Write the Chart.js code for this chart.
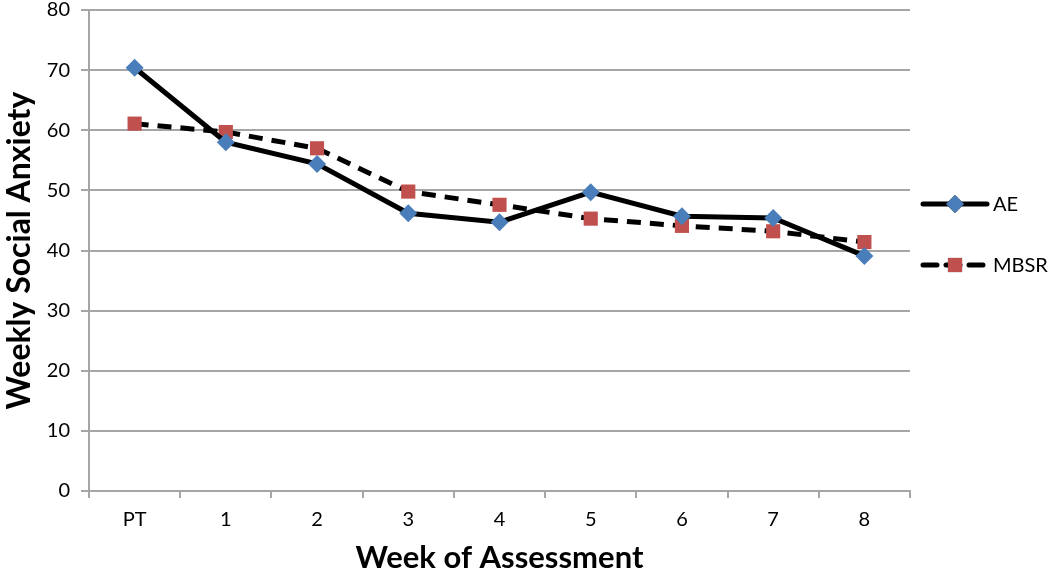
<!DOCTYPE html>
<html>
<head>
<meta charset="utf-8">
<script src="https://cdn.jsdelivr.net/npm/chart.js@4/dist/chart.umd.min.js"></script>
<style>
  html, body { margin: 0; padding: 0; background: #fff; }
  #wrap { width: 1050px; height: 577px; position: relative; }
</style>
</head>
<body>
<div id="wrap"><canvas id="c"></canvas></div>
<script>
const categories = ['PT', '1', '2', '3', '4', '5', '6', '7', '8'];
const aeValues   = [70.4, 58.0, 54.4, 46.2, 44.7, 49.7, 45.7, 45.4, 39.1];
const mbsrValues = [61.1, 59.7, 57.0, 49.8, 47.6, 45.3, 44.1, 43.2, 41.4];
const seriesNames = ['AE', 'MBSR'];
const yTicks = [0, 10, 20, 30, 40, 50, 60, 70, 80];

const FONT = 'Lato, "Open Sans", sans-serif';
const GRID = '#a6a6a6';

const legendPlugin = {
  id: 'sideLegend',
  afterDraw(chart) {
    const ctx = chart.ctx;
    const x0 = chart.chartArea.right + 11;
    const ys = [204, 265];
    chart.data.datasets.forEach((ds, i) => {
      const y = ys[i];
      ctx.save();
      ctx.strokeStyle = ds.borderColor;
      ctx.lineWidth = ds.borderWidth;
      ctx.setLineDash(ds.borderDash || []);
      ctx.lineCap = 'round';
      ctx.beginPath();
      ctx.moveTo(x0 + 2, y);
      ctx.lineTo(x0 + 66, y);
      ctx.stroke();
      ctx.setLineDash([]);
      Chart.helpers.drawPoint(ctx, {
        pointStyle: ds.pointStyle,
        radius: ds.pointRadius,
        rotation: 0,
        borderWidth: 0
      }, x0 + 34, y);
      ctx.fillStyle = ds.pointBackgroundColor;
      ctx.fill();
      ctx.fillStyle = '#000';
      ctx.font = '20px ' + FONT;
      ctx.textBaseline = 'middle';
      ctx.textAlign = 'left';
      ctx.fillText(ds.label, x0 + 72, y + 1);
      ctx.restore();
    });
  }
};

new Chart(document.getElementById('c'), {
  type: 'line',
  data: {
    labels: categories,
    datasets: [
      {
        label: seriesNames[0],
        data: aeValues,
        borderColor: '#000',
        borderWidth: 5,
        pointStyle: 'rectRot',
        pointRadius: 9,
        pointHoverRadius: 9,
        pointBackgroundColor: '#4a7ebb',
        pointBorderColor: '#4a7ebb',
        pointBorderWidth: 0,
        tension: 0
      },
      {
        label: seriesNames[1],
        data: mbsrValues,
        borderColor: '#000',
        borderWidth: 5,
        borderDash: [14, 9],
        pointStyle: 'rect',
        pointRadius: 10,
        pointHoverRadius: 10,
        pointBackgroundColor: '#c0504d',
        pointBorderColor: '#c0504d',
        pointBorderWidth: 0,
        tension: 0
      }
    ]
  },
  options: {
    responsive: true,
    maintainAspectRatio: false,
    animation: false,
    events: [],
    layout: { padding: { left: 0, right: 140, top: 9, bottom: 0 } },
    plugins: {
      legend: { display: false },
      tooltip: { enabled: false }
    },
    scales: {
      x: {
        type: 'category',
        offset: true,
        grid: {
          offset: true,
          drawOnChartArea: false,
          drawTicks: true,
          tickLength: 7,
          color: GRID,
          lineWidth: 2
        },
        border: { display: true, color: GRID, width: 2 },
        ticks: {
          color: '#000',
          font: { family: FONT, size: 20 },
          padding: 10,
          maxRotation: 0
        },
        title: {
          display: true,
          text: 'Week of Assessment',
          color: '#000',
          font: { family: FONT, size: 31, weight: 'bold' },
          padding: { top: 4, bottom: 0 }
        },
        afterFit(scale) {
          scale.height = 86;
          scale.paddingLeft = 0;
          scale.paddingRight = 0;
        }
      },
      y: {
        min: 0,
        max: 80,
        afterBuildTicks(scale) { scale.ticks = yTicks.map(v => ({ value: v })); },
        grid: {
          color: GRID,
          lineWidth: 2,
          drawTicks: true,
          tickLength: 8
        },
        border: { display: true, color: GRID, width: 2 },
        ticks: {
          color: '#000',
          font: { family: FONT, size: 20 },
          padding: 11
        },
        title: {
          display: true,
          text: 'Weekly Social Anxiety',
          color: '#000',
          font: { family: FONT, size: 32, weight: 'bold' },
          padding: { top: 0, bottom: 4 }
        },
        afterFit(scale) {
          scale.width = 89;
          scale.paddingTop = 0;
          scale.paddingBottom = 0;
        }
      }
    }
  },
  plugins: [legendPlugin]
});
</script>
</body>
</html>
